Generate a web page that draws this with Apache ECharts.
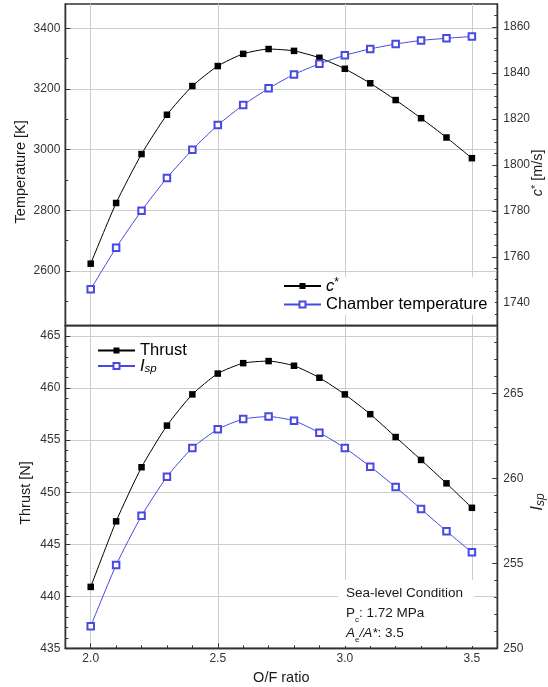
<!DOCTYPE html>
<html>
<head>
<meta charset="utf-8">
<script src="https://cdn.jsdelivr.net/npm/echarts@6/dist/echarts.min.js"></script>
<style>
  html, body { margin: 0; padding: 0; background: #fff; }
  #chart { width: 548px; height: 687px; }
</style>
</head>
<body>
<div id="chart"></div>
<script>
// O/F sweep and computed performance
const ofRatio = [2.0, 2.1, 2.2, 2.3, 2.4, 2.5, 2.6, 2.7, 2.8, 2.9, 3.0, 3.1, 3.2, 3.3, 3.4, 3.5];
const cStar = [1757.0, 1783.4, 1804.7, 1821.8, 1834.3, 1843.0, 1848.3, 1850.4, 1849.6, 1846.6, 1841.8, 1835.5, 1828.2, 1820.3, 1811.9, 1802.9];
const chamberTemp = [2540, 2677, 2799, 2907, 3000, 3081, 3147, 3202, 3248, 3283, 3311, 3332, 3348, 3360, 3367, 3373];
const thrust = [440.9, 447.2, 452.4, 456.4, 459.4, 461.4, 462.4, 462.6, 462.15, 461.0, 459.4, 457.5, 455.3, 453.1, 450.85, 448.5];
const isp = [251.3, 254.9, 257.8, 260.1, 261.8, 262.9, 263.5, 263.65, 263.4, 262.7, 261.8, 260.7, 259.5, 258.2, 256.9, 255.65];

// Tick values
const xMajor = [2.0, 2.5, 3.0, 3.5];
const xMinor = [2.1, 2.2, 2.3, 2.4, 2.6, 2.7, 2.8, 2.9, 3.1, 3.2, 3.3, 3.4];
const tempMajor = [2600, 2800, 3000, 3200, 3400];
const tempMinor = [2500, 2700, 2900, 3100, 3300];
const cStarMajor = [1740, 1760, 1780, 1800, 1820, 1840, 1860];
const cStarMinor = [1735, 1745, 1750, 1755, 1765, 1770, 1775, 1785, 1790, 1795, 1805, 1810, 1815, 1825, 1830, 1835, 1845, 1850, 1855, 1865];
const thrustMajor = [435, 440, 445, 450, 455, 460, 465];
const thrustMinor = [436, 437, 438, 439, 441, 442, 443, 444, 446, 447, 448, 449, 451, 452, 453, 454, 456, 457, 458, 459, 461, 462, 463, 464];
const ispMajor = [250, 255, 260, 265];
const ispMinor = [251, 252, 253, 254, 256, 257, 258, 259, 261, 262, 263, 264, 266, 267, 268];

const FONT = '"Liberation Sans", Arial, Helvetica, sans-serif';
const INK = '#1a1a1a';
const AXIS_INK = '#333';
const BLUE = '#4848e2';
const GRID_LINE = '#cdcdcd';

const zip = (xs, ys) => xs.map((x, i) => [x, ys[i]]);
const plain = v => String(v);
const frameLine = { show: true, onZero: false, lineStyle: { color: AXIS_INK, width: 1.3 } };

// A labelled axis with major ticks plus a bare companion axis carrying the minor ticks
function axisWithMinor(base, major, minor, opts) {
  const main = Object.assign({
    type: 'value',
    nameMoveOverlap: false,
    axisLine: frameLine,
    axisTick: { show: true, inside: true, length: 5, customValues: major, lineStyle: { color: AXIS_INK, width: 1 } },
    axisLabel: {
      show: opts.labels !== false, customValues: major, margin: opts.margin || 5,
      color: AXIS_INK, fontSize: 12, fontFamily: FONT, formatter: opts.formatter || plain
    },
    splitLine: { show: !!opts.split, lineStyle: { color: GRID_LINE, width: 1 } }
  }, base);
  const minorAxis = Object.assign({
    type: 'value',
    axisLine: frameLine,
    axisTick: { show: true, inside: true, length: 3, customValues: minor, lineStyle: { color: AXIS_INK, width: 1 } },
    axisLabel: { show: false, customValues: minor },
    splitLine: { show: false }
  }, { gridIndex: base.gridIndex, position: base.position, min: base.min, max: base.max });
  return [main, minorAxis];
}

const nameRich = {
  it: { fontStyle: 'italic', fontSize: 14.5, fontFamily: FONT, color: INK },
  sup: { fontSize: 11, fontFamily: FONT, color: INK, verticalAlign: 'top', lineHeight: 10 },
  bigI: { fontStyle: 'italic', fontSize: 17, fontFamily: FONT, color: INK, lineHeight: 18 },
  sub: { fontStyle: 'italic', fontSize: 12, fontFamily: FONT, color: INK, verticalAlign: 'bottom', lineHeight: 9, padding: [11, 0, 0, 0] }
};
// vertical names sit a little below the middle of their panel
const nameStyle = pad => ({
  color: INK, fontSize: 14.5, fontFamily: FONT, padding: [0, pad, 0, 0], rich: nameRich
});

const xTop = axisWithMinor(
  { gridIndex: 0, position: 'bottom', min: 1.9, max: 3.6 },
  xMajor, xMinor, { labels: false, split: true }
);
xTop[0].axisTick.show = false;
xTop[1].axisTick.show = false;

const xBottom = axisWithMinor(
  {
    gridIndex: 1, position: 'bottom', min: 1.9, max: 3.6,
    name: 'O/F ratio', nameLocation: 'middle', nameGap: 22,
    nameTextStyle: { color: INK, fontSize: 14.5, fontFamily: FONT }
  },
  xMajor, xMinor, { split: true, margin: 4, formatter: v => v.toFixed(1) }
);

const yTemp = axisWithMinor(
  {
    gridIndex: 0, position: 'left', min: 2420, max: 3480,
    name: 'Temperature [K]', nameLocation: 'middle', nameGap: 37, nameTextStyle: nameStyle(14)
  },
  tempMajor, tempMinor, { split: true }
);
const yCStar = axisWithMinor(
  {
    gridIndex: 0, position: 'right', min: 1730, max: 1870,
    name: '{it|c}{sup|*} [m/s]', nameLocation: 'middle', nameGap: 33, nameRotate: 90, nameTextStyle: nameStyle(16)
  },
  cStarMajor, cStarMinor, { margin: 6 }
);
const yThrust = axisWithMinor(
  {
    gridIndex: 1, position: 'left', min: 435, max: 466,
    name: 'Thrust [N]', nameLocation: 'middle', nameGap: 32, nameTextStyle: nameStyle(12)
  },
  thrustMajor, thrustMinor, { split: true }
);
const yIsp = axisWithMinor(
  {
    gridIndex: 1, position: 'right', min: 250, max: 269,
    name: '{bigI|I}{sub|sp}', nameLocation: 'middle', nameGap: 31, nameRotate: 90, nameTextStyle: nameStyle(30)
  },
  ispMajor, ispMinor, { margin: 6 }
);

const legendRich = {
  txt: { fontSize: 16.5, fontFamily: FONT, color: '#000', lineHeight: 18 },
  it: { fontSize: 16.5, fontFamily: FONT, fontStyle: 'italic', color: '#000', lineHeight: 18 },
  sup: { fontSize: 12, fontFamily: FONT, color: '#000', verticalAlign: 'top', lineHeight: 10 },
  sub: { fontSize: 11.5, fontFamily: FONT, fontStyle: 'italic', color: '#000', verticalAlign: 'bottom', lineHeight: 9, padding: [12, 0, 0, 0] }
};
const legendLabel = {
  'c*': '{it|c}{sup|*}',
  'Chamber temperature': '{txt|Chamber temperature}',
  'Thrust': '{txt|Thrust}',
  'Isp': '{it|I}{sub|sp}'
};
function legendItem(name, left, top) {
  return {
    data: [name], left: left, top: top, orient: 'vertical', padding: 0,
    itemWidth: 37, itemHeight: 7.5, selectedMode: false,
    formatter: n => legendLabel[n],
    textStyle: { rich: legendRich }
  };
}

const panelGrid = (top, height) => ({
  left: 65.3, right: 50.7, top: top, height: height,
  outerBoundsMode: 'none', containLabel: false,
  show: true, borderColor: AXIS_INK, borderWidth: 1.3, backgroundColor: 'transparent'
});

const option = {
  animation: false,
  backgroundColor: '#fff',
  grid: [panelGrid(4, 321.7), panelGrid(325.7, 322.6)],
  xAxis: [xTop[0], xBottom[0], xTop[1], xBottom[1]],
  yAxis: [yTemp[0], yCStar[0], yThrust[0], yIsp[0], yTemp[1], yCStar[1], yThrust[1], yIsp[1]],
  legend: [
    legendItem('c*', 283, 277),
    legendItem('Chamber temperature', 283, 296),
    legendItem('Thrust', 97, 342),
    legendItem('Isp', 97, 351)
  ],
  graphic: [
    // white panel behind the upper legend
    { type: 'rect', z: 1, shape: { x: 279, y: 277, width: 216, height: 38 }, style: { fill: '#fff' } },
    // test conditions note
    { type: 'rect', z: 1, shape: { x: 338, y: 580, width: 136, height: 66 }, style: { fill: '#fff' } },
    {
      type: 'text', z: 3, x: 346, y: 583.3,
      style: {
        text: 'Sea-level Condition\nP{sub|c}: 1.72 MPa\n{it|A}{sub|e}{it|/A*}: 3.5',
        font: '13.5px ' + FONT, fill: INK, lineHeight: 20, verticalAlign: 'top',
        rich: {
          it: { fontStyle: 'italic', fontSize: 13.5, fontFamily: FONT, fill: INK },
          sub: { fontSize: 8, fontFamily: FONT, fill: INK, verticalAlign: 'bottom', lineHeight: 8 }
        }
      }
    }
  ],
  series: [
    {
      name: 'c*', type: 'line', xAxisIndex: 0, yAxisIndex: 1,
      data: zip(ofRatio, cStar), smooth: 0.2,
      symbol: 'rect', symbolSize: 6.5,
      itemStyle: { color: '#000' }, lineStyle: { color: '#000', width: 1 }
    },
    {
      name: 'Chamber temperature', type: 'line', xAxisIndex: 0, yAxisIndex: 0,
      data: zip(ofRatio, chamberTemp), smooth: 0.2,
      symbol: 'emptyRect', symbolSize: 6.5,
      itemStyle: { color: BLUE, borderWidth: 1 }, lineStyle: { color: BLUE, width: 1 }
    },
    {
      name: 'Thrust', type: 'line', xAxisIndex: 1, yAxisIndex: 2,
      data: zip(ofRatio, thrust), smooth: 0.2,
      symbol: 'rect', symbolSize: 6.5,
      itemStyle: { color: '#000' }, lineStyle: { color: '#000', width: 1 }
    },
    {
      name: 'Isp', type: 'line', xAxisIndex: 1, yAxisIndex: 3,
      data: zip(ofRatio, isp), smooth: 0.2,
      symbol: 'emptyRect', symbolSize: 6.5,
      itemStyle: { color: BLUE, borderWidth: 1 }, lineStyle: { color: BLUE, width: 1 }
    }
  ]
};

const chart = echarts.init(document.getElementById('chart'), null, { renderer: 'canvas' });
chart.setOption(option);
</script>
</body>
</html>
